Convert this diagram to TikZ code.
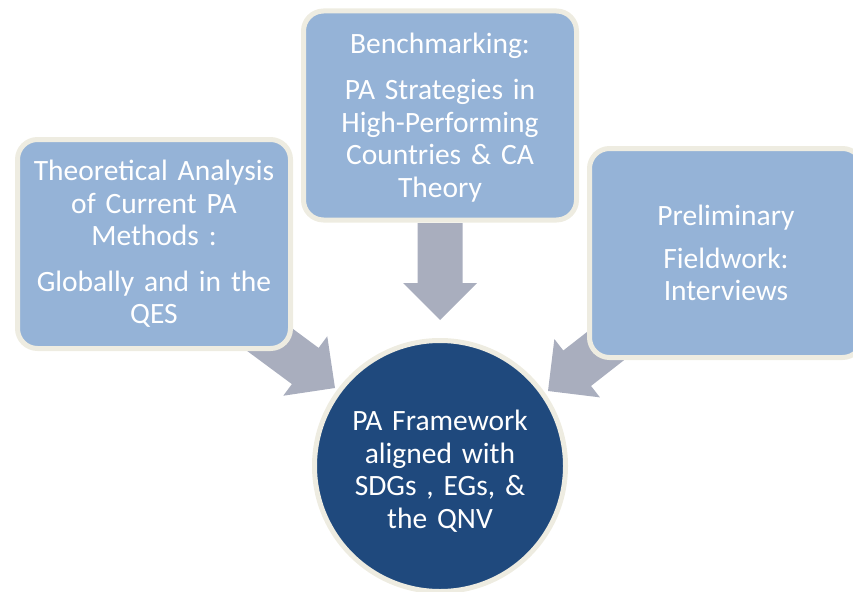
\documentclass[tikz,border=0pt]{standalone}
\usepackage{fontspec}
\setmainfont{Carlito}
\definecolor{boxblue}{HTML}{95B3D7}
\definecolor{cream}{HTML}{EEECE1}
\definecolor{navy}{HTML}{1F497D}
\definecolor{arrowgray}{HTML}{A9AEBE}
\tikzset{
  txt/.style={text=white, align=center, font=\fontsize{29.5}{32.5}\selectfont},
  infobox/.style={txt, rectangle, rounded corners=20pt, fill=boxblue, draw=cream, line width=5pt,
     minimum width=273pt, minimum height=209pt, text width=262pt, inner sep=0pt},
  hub/.style={circle, fill=navy, draw=cream, line width=5pt, minimum size=251pt, inner sep=0pt},
  blockarrow/.style={fill=arrowgray, draw=none}
}
\newcommand{\mkarrow}[3]{%
  \begin{scope}[shift={(#1)}, rotate=#2]
    \fill[blockarrow] (0,0) -- (-37,37) -- (-37,22.5) -- (-#3,22.5) -- (-#3,-22.5) -- (-37,-22.5) -- (-37,-37) -- cycle;
  \end{scope}}
\begin{document}
\begin{tikzpicture}[x=1pt,y=-1pt]
\useasboundingbox (0,0) rectangle (853,591);
\clip (0,0) rectangle (853,591);
% arrow tips
\coordinate (tipA) at (335,388);
\coordinate (tipB) at (440,320);
\coordinate (tipC) at (548,391);
\mkarrow{tipB}{-90}{97}
\mkarrow{tipA}{-36.5}{100}
\mkarrow{tipC}{-142}{100}
% boxes
\node[infobox] (boxA) at (154,244) {Theoretical Analysis\\ of Current PA\\ Methods :\\[13pt] Globally and in the\\ QES};
\node[infobox] (boxB) at (440,115.5) {};
\node[txt, text width=262pt] (boxBtext) at ([yshift=-2pt]boxB.center) {Benchmarking:\\[14pt] PA Strategies in\\ High-Performing\\ Countries \& CA\\ Theory};
\node[infobox] (boxC) at (726,253) {Preliminary\\[10pt] Fieldwork:\\ Interviews};
\node[hub] (hub) at (440,466) {};
\node[txt, text width=230pt] (hubtext) at ([yshift=-5pt]hub.center) {PA Framework\\ aligned with\\ SDGs , EGs, \&\\ the QNV};
\end{tikzpicture}
\end{document}
